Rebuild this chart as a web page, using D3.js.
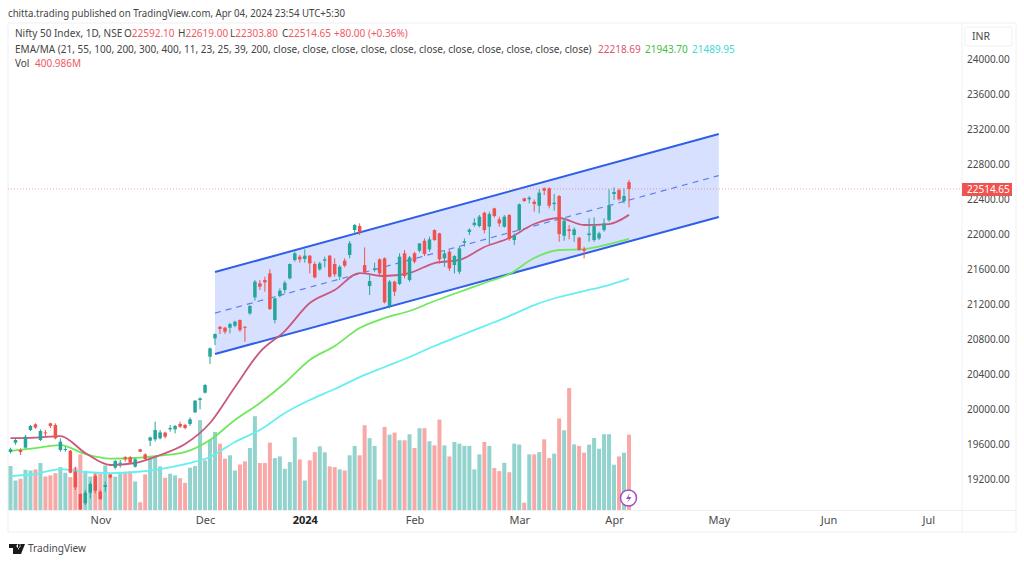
<!doctype html>
<html>
<head>
    <script src="https://d3js.org/d3.v7.min.js"></script>
</head>
<style>
    html, body { margin: 0; background: #fff; }
    svg { display: block; }
    svg text { font-family: "Noto Sans", sans-serif; font-size: 10px; fill: #4a4a4a; }
    .axis path, .axis line { display: none; }
</style>
<body>
    <div id="chart"></div>
    <script>
        // candles, oldest first (one value per trading day, Oct 2023 - Apr 2024)
        var opens = [19509,19615,19531,19558,19760,19825,19646,19733,19836,19817,
            19531,19535,19524,19284,19029,18922,19044,19234,19055,19109,
            19246,19330,19375,19448,19448,19341,19539,19482,19638,19653,
            19665,19730,19768,19768,19829,19817,19829,19961,20102,20186,
            20598,20807,20940,20929,20929,20952,21017,20940,21093,21276,
            21436,21474,21550,21017,21291,21360,21493,21703,21741,21714,
            21752,21657,21596,21695,21752,21657,21512,21695,21760,22045,
            22091,21645,21405,21588,21710,21722,21177,21455,21428,21779,
            21474,21779,21809,21923,21824,22045,22007,21721,21798,21645,
            21569,21900,22022,22102,22091,22243,22083,22293,22167,22083,
            22217,21931,22045,22407,22396,22369,22323,22521,22521,22342,
            22434,21980,22053,21988,21958,21828,21988,21931,21950,22045,
            22159,22457,22502,22377,22592.10];
        var highs = [19558,19657,19551,19703,19817,19836,19768,19760,19844,19836,
            19665,19570,19531,19341,19036,19074,19170,19257,19074,19170,
            19257,19417,19417,19463,19463,19436,19543,19493,19684,19855,
            19760,19741,19817,19817,19855,19829,19905,20102,20133,20285,
            20704,20864,20948,20940,20986,21009,21024,20948,21188,21474,
            21474,21512,21596,21291,21379,21466,21664,21798,21760,21824,
            21760,21683,21683,21741,21760,21722,21645,21722,21920,22114,
            22122,21847,21531,21672,21722,21733,21474,21466,21779,21817,
            21748,21798,21893,21950,21969,22053,22015,21817,21817,21759,
            21855,21950,22064,22179,22217,22255,22255,22300,22198,22217,
            22228,22007,22350,22415,22434,22396,22510,22533,22533,22457,
            22445,22179,22102,22076,21969,21855,22179,22190,22026,22179,
            22510,22533,22521,22521,22619];
        var lows = [19493,19592,19474,19547,19749,19775,19634,19691,19783,19653,
            19512,19512,19265,19074,18846,18903,18979,19036,18960,19055,
            19204,19311,19330,19398,19371,19330,19505,19417,19577,19627,
            19653,19665,19741,19722,19783,19768,19806,19957,19995,20178,
            20514,20731,20857,20857,20864,20933,20880,20769,21074,21238,
            21360,21341,21131,20979,21276,21321,21481,21683,21672,21672,
            21550,21493,21581,21619,21501,21512,21474,21619,21722,21988,
            21988,21550,21302,21569,21531,21207,21150,21291,21417,21493,
            21455,21664,21790,21748,21798,21923,21664,21626,21577,21550,
            21542,21855,21988,22083,22076,22007,21885,22190,22083,22072,
            21923,21874,22034,22365,22350,22255,22236,22445,22293,22266,
            21912,21923,21939,21912,21809,21721,21912,21912,21931,22026,
            22140,22388,22380,22350,22303.80];
        var closes = [19539,19646,19509,19684,19806,19787,19749,19722,19806,19665,
            19627,19543,19272,19105,18853,19044,19143,19067,18971,19131,
            19219,19406,19387,19425,19387,19425,19512,19429,19676,19760,
            19733,19684,19783,19806,19798,19783,19882,20095,20121,20274,
            20693,20857,20914,20883,20971,20998,20902,20929,21177,21455,
            21398,21447,21142,21264,21352,21443,21657,21779,21710,21752,
            21664,21504,21664,21710,21512,21539,21626,21638,21893,22103,
            22019,21562,21462,21607,21550,21219,21455,21341,21741,21520,
            21733,21683,21893,21771,21938,21931,21710,21778,21607,21748,
            21836,21919,22049,22129,22198,22045,22228,22205,22121,22198,
            21942,21980,22339,22377,22415,22342,22472,22495,22323,22358,
            21999,22152,22034,22053,21817,21809,22007,22091,22007,22121,
            22323,22480,22396,22434,22514.65];
        // volume in millions
        var volumes = [234,157,166,214,210,216,250,178,184,196,
            228,198,175,225,296,207,178,201,193,237,
            193,178,201,196,205,152,41,189,282,282,
            232,171,193,184,169,144,225,234,478,264,
            374,415,353,273,291,210,242,259,330,499,
            250,250,358,276,285,219,255,387,269,157,
            264,308,339,307,232,228,216,210,291,341,
            291,451,382,341,162,442,401,412,371,371,
            403,330,435,435,366,344,481,344,285,362,
            353,341,341,216,296,362,341,223,207,251,
            201,353,348,39,296,296,308,376,276,300,
            487,424,649,349,341,305,348,383,326,403,
            403,241,285,305,400.986];

        // moving averages, read every 5 bars
        var emaIndex = [0,5,10,15,20,25,30,35,40,45,50,55,60,65,70,75,80,85,90,95,100,105,110,115,120,124];
        var ema21 = [19668,19674,19691,19497,19360,19383,19474,19600,19840,20251,20651,20891,21211,21360,21554,21520,21554,21668,21703,21851,21954,22114,22183,22103,22114,22218.69];
        var ema55 = [19520,19554,19588,19485,19434,19440,19468,19508,19645,19874,20068,20297,20560,20720,20925,21040,21120,21234,21337,21440,21543,21725,21817,21828,21885,21943.70];
        var ema100 = [19234,19257,19314,19280,19268,19280,19314,19371,19451,19623,19760,19954,20103,20228,20365,20480,20594,20720,20834,20948,21062,21188,21280,21348,21417,21489.95];

        // parallel channel drawing
        var channelIndex = [41, 142];
        var channelUpper = [21565, 23143];
        var channelMiddle = [21096, 22668];
        var channelLower = [20628, 22194];

        var priceTicks = [24000,23600,23200,22800,22400,22000,21600,21200,20800,20400,20000,19600,19200];
        var monthLabels = ["Nov","Dec","2024","Feb","Mar","Apr","May","Jun","Jul"];
        var monthIndex = [18,39,59,81,102,121,142,164,184];

        var width = 1024, height = 562;
        var up = "#26a69a", down = "#ef5350";

        var svg = d3.select("#chart").append("svg")
            .attr("width", width)
            .attr("height", height);

        var x = d3.scaleLinear().domain([0, 124]).range([10.5, 629]);
        var y = d3.scaleLinear().domain([19200, 24000]).range([479, 59]);
        var yVol = d3.scaleLinear().domain([0, 649]).range([510, 388]);

        // frame
        svg.append("rect").attr("x", 8).attr("y", 23).attr("width", 1008).attr("height", 509)
            .attr("fill", "#fff").attr("stroke", "#f0f0f0");
        svg.append("line").attr("x1", 962).attr("x2", 962).attr("y1", 23).attr("y2", 532).attr("stroke", "#f0f0f0");
        svg.append("line").attr("x1", 8).attr("x2", 1016).attr("y1", 510.5).attr("y2", 510.5).attr("stroke", "#f0f0f0");

        svg.append("defs").append("clipPath").attr("id", "pane")
            .append("rect").attr("x", 8).attr("y", 24).attr("width", 953).attr("height", 486);
        var pane = svg.append("g").attr("clip-path", "url(#pane)");

        // volume bars
        pane.selectAll("rect.vol")
            .data(volumes)
            .enter()
            .append("rect")
            .attr("class", "vol")
            .attr("x", function(d, i) { return x(i) - 2; })
            .attr("y", function(d) { return yVol(d); })
            .attr("width", 4)
            .attr("height", function(d) { return yVol(0) - yVol(d); })
            .attr("fill", function(d, i) { return closes[i] >= opens[i] ? "#93d3cd" : "#f8a9a7"; });

        // channel
        var area = d3.area()
            .x(function(d) { return x(d); })
            .y0(function(d, i) { return y(channelLower[i]); })
            .y1(function(d, i) { return y(channelUpper[i]); });
        pane.append("path").datum(channelIndex).attr("d", area)
            .attr("fill", "#2962ff").attr("fill-opacity", 0.19);

        function channelLine(values, color, w, dash) {
            var line = d3.line()
                .x(function(d) { return x(d); })
                .y(function(d, i) { return y(values[i]); });
            pane.append("path").datum(channelIndex).attr("d", line)
                .attr("fill", "none").attr("stroke", color).attr("stroke-width", w)
                .attr("stroke-dasharray", dash);
        }
        channelLine(channelUpper, "#2f5fe8", 2, null);
        channelLine(channelLower, "#2f5fe8", 2, null);
        channelLine(channelMiddle, "#5f7fec", 1.2, "6,5");

        // moving averages
        function emaLine(values, color) {
            var line = d3.line()
                .curve(d3.curveMonotoneX)
                .x(function(d) { return x(d); })
                .y(function(d, i) { return y(values[i]); });
            pane.append("path").datum(emaIndex).attr("d", line)
                .attr("fill", "none").attr("stroke", color).attr("stroke-width", 1.8);
        }
        emaLine(ema100, "#66eff0");
        emaLine(ema55, "#6fe85c");
        emaLine(ema21, "#c9587c");

        // last price line
        pane.append("line")
            .attr("x1", 8).attr("x2", 961)
            .attr("y1", y(closes[124])).attr("y2", y(closes[124]))
            .attr("stroke", "#ef5350").attr("stroke-opacity", 0.55).attr("stroke-dasharray", "1,2");

        // candles
        var candle = pane.selectAll("g.candle")
            .data(opens)
            .enter()
            .append("g")
            .attr("class", "candle")
            .attr("fill", function(d, i) { return closes[i] >= d ? up : down; })
            .attr("stroke", function(d, i) { return closes[i] >= d ? up : down; });
        candle.append("line")
            .attr("x1", function(d, i) { return x(i); })
            .attr("x2", function(d, i) { return x(i); })
            .attr("y1", function(d, i) { return y(highs[i]); })
            .attr("y2", function(d, i) { return y(lows[i]); })
            .attr("stroke-width", 1);
        candle.append("rect")
            .attr("x", function(d, i) { return x(i) - 1.75; })
            .attr("y", function(d, i) { return y(Math.max(d, closes[i])); })
            .attr("width", 3.5)
            .attr("height", function(d, i) { return Math.max(1, Math.abs(y(d) - y(closes[i]))); })
            .attr("stroke", "none");

        // axes
        var yAxis = d3.axisRight(y)
            .tickValues(priceTicks)
            .tickSize(0)
            .tickPadding(5)
            .tickFormat(d3.format(".2f"));
        svg.append("g").attr("class", "axis").attr("transform", "translate(962,0)").call(yAxis)
            .selectAll("text")
            .style("font-size", "10px");

        var xMonth = d3.scaleOrdinal().domain(monthLabels).range(monthIndex.map(function(d) { return x(d); }));
        var xAxis = d3.axisBottom(xMonth).tickSize(0).tickPadding(6);
        svg.append("g").attr("class", "axis").attr("transform", "translate(0,510)").call(xAxis)
            .selectAll("text")
            .style("font-size", "11px")
            .style("font-weight", function(d) { return d == "2024" ? "bold" : "normal"; })
            .style("fill", function(d) { return d == "2024" ? "#222" : "#4a4a4a"; });

        // price label and currency box
        svg.append("rect").attr("x", 962).attr("y", 183).attr("width", 50).attr("height", 13).attr("fill", "#ef5350");
        svg.append("text").attr("x", 967).attr("y", 192.5).style("fill", "#fff")
            .text(d3.format(".2f")(closes[124]));
        svg.append("rect").attr("x", 965).attr("y", 27).attr("width", 47).attr("height", 19).attr("rx", 2)
            .attr("fill", "#fff").attr("stroke", "#f0f0f0");
        svg.append("text").attr("x", 972).attr("y", 40).style("font-size", "10.5px").text("INR");

        // header texts
        var red = "#ef5a5f";
        function label(tx, ty, s, color) {
            svg.append("text").attr("x", tx).attr("y", ty).style("fill", color).text(s);
        }
        function ohlc(tx, name, value) {
            var t = svg.append("text").attr("x", tx).attr("y", 37);
            t.append("tspan").style("fill", "#444").text(name);
            t.append("tspan").style("fill", red).text(value);
        }
        svg.append("text").attr("x", 8).attr("y", 17).style("font-size", "10.5px").style("fill", "#444")
            .attr("textLength", 337).attr("lengthAdjust", "spacingAndGlyphs")
            .text("chitta.trading published on TradingView.com, Apr 04, 2024 23:54 UTC+5:30");
        label(15, 37, "Nifty 50 Index, 1D, NSE", "#444");
        ohlc(124, "O", "22592.10");
        ohlc(178, "H", "22619.00");
        ohlc(230, "L", "22303.80");
        ohlc(282, "C", "22514.65");
        label(334, 37, "+80.00 (+0.36%)", red);
        label(15, 53, "EMA/MA (21, 55, 100, 200, 300, 400, 11, 23, 25, 39, 200, close, close, close, close, close, close, close, close, close, close, close)", "#444");
        label(598, 53, "22218.69", "#d8566f");
        label(645, 53, "21943.70", "#3fbf3f");
        label(692, 53, "21489.95", "#3fd8d8");
        label(15, 67, "Vol", "#444");
        label(35, 67, "400.986M", red);

        // lightning badge
        svg.append("circle").attr("cx", 628.5).attr("cy", 498).attr("r", 8)
            .attr("fill", "#fff").attr("stroke", "#9c4fc4").attr("stroke-width", 1.5);
        svg.append("path").attr("d", "M630,493 L626,499 L629,499 L627,503 L631.5,497 L628.5,497 Z").attr("fill", "#9c4fc4");

        // TradingView logo
        svg.append("path")
            .attr("d", "M9,544 H18 V554 H13 V548 H9 Z M20.5,544 H25 L21,554 H16.5 Z M18.5,544 a2,2 0 1 0 0.01,0 Z")
            .attr("fill", "#1a1a1a");
        svg.append("text").attr("x", 28).attr("y", 552).attr("textLength", 58).attr("lengthAdjust", "spacingAndGlyphs")
            .style("font-size", "11.5px").text("TradingView");
    </script>
</body>
</html>
